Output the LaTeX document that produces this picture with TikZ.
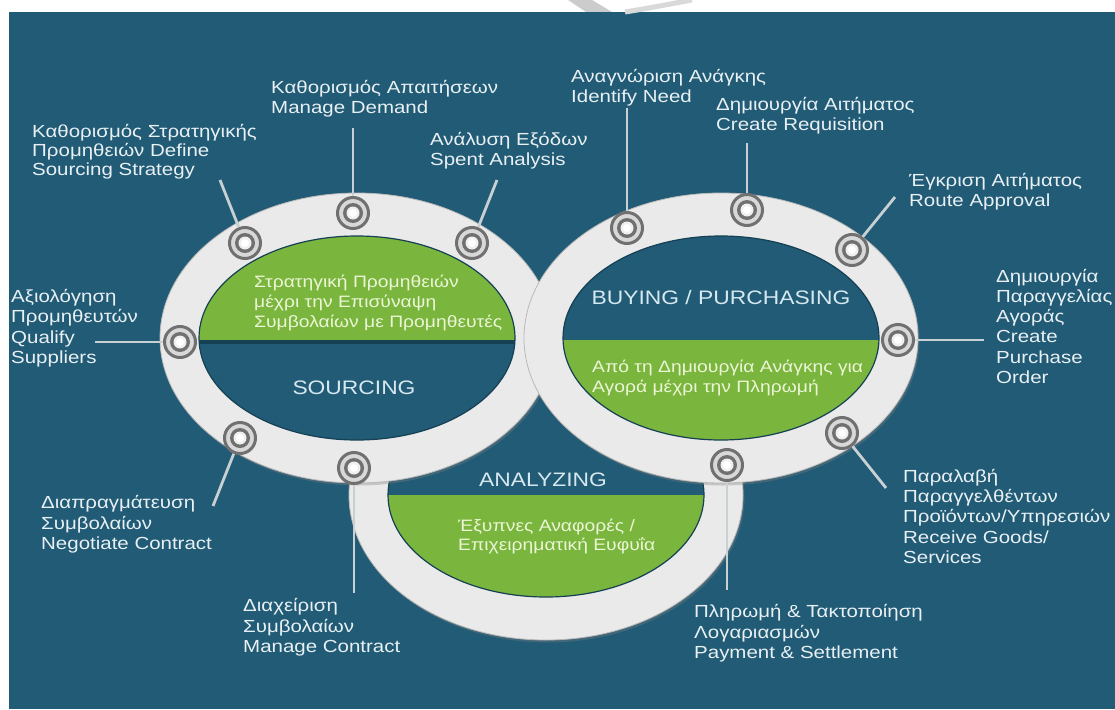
\documentclass[tikz,border=0pt]{standalone}
\usepackage{fontspec}
\setmainfont{Liberation Sans}[FakeStretch=1.17]
\usetikzlibrary{shadows}
\definecolor{bgblue}{RGB}{33,91,117}
\definecolor{ringgray}{RGB}{234,234,234}
\definecolor{leafgreen}{RGB}{122,181,62}
\definecolor{labeltxt}{RGB}{232,240,244}
\definecolor{greentxt}{RGB}{236,246,214}
\definecolor{titletxt}{RGB}{214,232,240}
\definecolor{tdark}{RGB}{112,112,112}
\definecolor{tlight}{RGB}{216,216,216}
\definecolor{leadcol}{RGB}{200,208,212}
\definecolor{innershade}{RGB}{22,64,84}
\begin{document}
\begin{tikzpicture}[x=1pt,y=-1pt,
  ring/.style={fill=ringgray, draw=gray!55, line width=0.8pt,
    drop shadow={opacity=0.35, shadow xshift=1.5pt, shadow yshift=-2.5pt}},
  innerrim/.style={draw=innershade, line width=1.2pt},
  target/.style={circle, minimum size=31pt, inner sep=0pt, draw=tdark,
    line width=3pt, fill=tlight,
    path picture={
      \fill[tdark] (path picture bounding box.center) circle[radius=10pt];
      \fill[gray!12] (path picture bounding box.center) circle[radius=6.5pt];
      \fill[white] (path picture bounding box.center) circle[radius=4pt];}},
  leader/.style={draw=leadcol, line width=2.8pt},
  lbl/.style={font=\fontsize{17.5}{20.3}\selectfont, text=labeltxt,
    align=left, inner sep=0pt, anchor=base west},
  gtxt/.style={font=\fontsize{16.5}{20}\selectfont, text=greentxt,
    align=left, inner sep=0pt, anchor=base west},
  ttl/.style={font=\fontsize{19.5}{22}\selectfont, text=titletxt, inner sep=0pt}
]
\useasboundingbox (0,0) rectangle (1115,709);
\fill[white] (0,0) rectangle (1115,709);
\fill[bgblue] (9,12) rectangle (1115,709);
% faint watermark in the top band
\fill[gray!40] (568,0) -- (592,0) -- (612,12) -- (586,12) -- cycle;
\draw[gray!30, line width=5pt] (625,12) .. controls (650,8) and (670,4) .. (692,0);

\coordinate (Lc) at (357,338);
\coordinate (Rc) at (721,338);
\coordinate (Bc) at (546,495);

% ---- bottom ring (ANALYZING)
\fill[ring] (Bc) ellipse [x radius=197pt, y radius=145pt];
\begin{scope}
  \clip (Bc) ellipse [x radius=158pt, y radius=102pt];
  \fill[bgblue] (380,380) rectangle (712,495);
  \fill[leafgreen] (380,495) rectangle (712,610);
\end{scope}
\draw[innerrim] (Bc) ellipse [x radius=158pt, y radius=102pt];

% ---- left ring (SOURCING)
\fill[ring] (Lc) ellipse [x radius=197pt, y radius=145pt];
\begin{scope}
  \clip (Lc) ellipse [x radius=158pt, y radius=102pt];
  \fill[leafgreen] (190,230) rectangle (525,340);
  \fill[bgblue] (190,340) rectangle (525,450);
  \fill[innershade] (190,340) rectangle (525,344);
\end{scope}
\draw[innerrim] (Lc) ellipse [x radius=158pt, y radius=102pt];

% ---- right ring (BUYING / PURCHASING)
\fill[ring] (Rc) ellipse [x radius=197pt, y radius=145pt];
\begin{scope}
  \clip (Rc) ellipse [x radius=158pt, y radius=102pt];
  \fill[bgblue] (555,230) rectangle (890,340);
  \fill[leafgreen] (555,340) rectangle (890,450);
\end{scope}
\draw[innerrim] (Rc) ellipse [x radius=158pt, y radius=102pt];

% ---- titles
\node[ttl] (sourcing) at (354,388) {SOURCING};
\node[ttl] (buying) at (721,298) {BUYING / PURCHASING};
\node[ttl] (analyzing) at (543,480) {ANALYZING};

% ---- texts inside the green areas (anchored at the baseline of the last line)
\node[gtxt] (g1) at (254,327) {Στρατηγική Προμηθειών\\μέχρι την Επισύναψη\\Συμβολαίων με Προμηθευτές};
\node[gtxt] (g2) at (592,392) {Από τη Δημιουργία Ανάγκης για\\Αγορά μέχρι την Πληρωμή};
\node[gtxt, font=\fontsize{16.5}{18.5}\selectfont] (g3) at (458,550) {Έξυπνες Αναφορές /\\Επιχειρηματική Ευφυΐα};

% ---- targets
\node[target] (t1) at (245,243) {};
\node[target] (t2) at (353,213) {};
\node[target] (t3) at (472,243) {};
\node[target] (t4) at (180,342) {};
\node[target] (t5) at (240,438) {};
\node[target] (t6) at (354,468) {};
\node[target] (t7) at (627,228) {};
\node[target] (t8) at (747,210) {};
\node[target] (t9) at (852,250) {};
\node[target] (t10) at (898,340) {};
\node[target] (t11) at (842,433) {};
\node[target] (t12) at (727,465) {};

% ---- leader ends
\coordinate (e1) at (220,180);
\coordinate (e2) at (353,128);
\coordinate (e3) at (497,180);
\coordinate (e4) at (95,342);
\coordinate (e5) at (213,506);
\coordinate (e6) at (354,593);
\coordinate (e7) at (627,108);
\coordinate (e8) at (747,143);
\coordinate (e9) at (895,197);
\coordinate (e10) at (984,340);
\coordinate (e11) at (886,488);
\coordinate (e12) at (727,590);
\foreach \i in {1,...,12} { \draw[leader] (e\i) -- (t\i); }

% ---- labels (anchored at the baseline of the last line)
\node[lbl, font=\fontsize{17.5}{19}\selectfont] (l1) at (32,175.5) {Καθορισμός Στρατηγικής\\Προμηθειών Define\\Sourcing Strategy};
\node[lbl] (l2) at (271,113.5) {Καθορισμός Απαιτήσεων\\Manage Demand};
\node[lbl] (l3) at (430,165.5) {Ανάλυση Εξόδων\\Spent Analysis};
\node[lbl] (l4) at (11,363.5) {Αξιολόγηση\\Προμηθευτών\\Qualify\\Suppliers};
\node[lbl] (l5) at (41,549.5) {Διαπραγμάτευση\\Συμβολαίων\\Negotiate Contract};
\node[lbl] (l6) at (243,652.5) {Διαχείριση\\Συμβολαίων\\Manage Contract};
\node[lbl] (l7) at (571,102.5) {Αναγνώριση Ανάγκης\\Identify Need};
\node[lbl] (l8) at (716,130.5) {Δημιουργία Αιτήματος\\Create Requisition};
\node[lbl] (l9) at (909,206.5) {Έγκριση Αιτήματος\\Route Approval};
\node[lbl] (l10) at (996,383.5) {Δημιουργία\\Παραγγελίας\\Αγοράς\\Create\\Purchase\\Order};
\node[lbl] (l11) at (903,563.5) {Παραλαβή\\Παραγγελθέντων\\Προϊόντων/Υπηρεσιών\\Receive Goods/\\Services};
\node[lbl] (l12) at (694,658.5) {Πληρωμή \& Τακτοποίηση\\Λογαριασμών\\Payment \& Settlement};
\end{tikzpicture}
\end{document}
